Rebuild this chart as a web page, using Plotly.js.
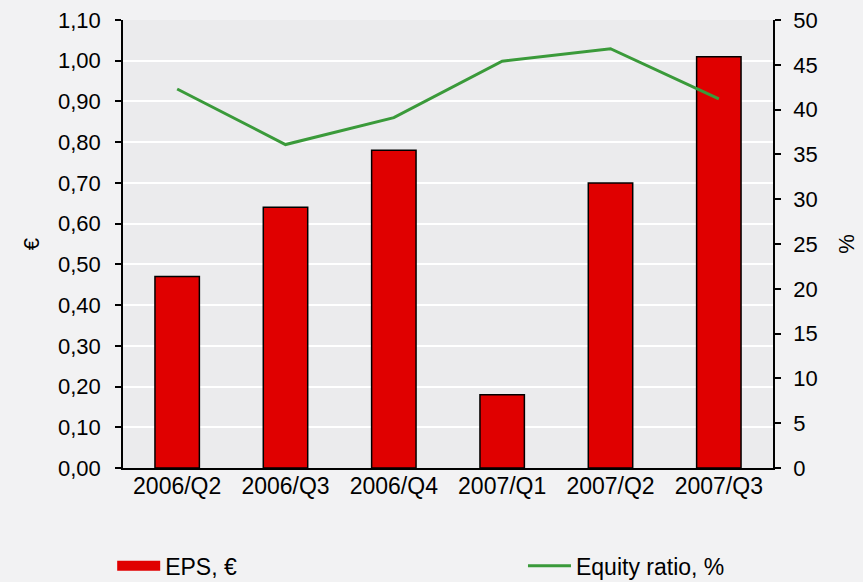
<!DOCTYPE html>
<html>
<head>
<meta charset="utf-8">
<script src="https://cdn.plot.ly/plotly-3.0.1.min.js"></script>
<style>
  html, body { margin: 0; padding: 0; background: #f2f2f3; }
  #plot { width: 863px; height: 582px; }
</style>
</head>
<body>
<div id="plot"></div>
<script>
// Data
const quarters = ['2006/Q2', '2006/Q3', '2006/Q4', '2007/Q1', '2007/Q2', '2007/Q3'];
const eps = [0.47, 0.64, 0.78, 0.18, 0.70, 1.01];        // €
const equityRatio = [42.3, 36.1, 39.1, 45.4, 46.8, 41.2]; // %

const font = 'Liberation Sans, Arial, sans-serif';
const red = '#e00000';
const green = '#3a9a3a';

const epsTrace = {
    x: quarters,
    y: eps,
    type: 'bar',
    name: 'EPS, €',
    marker: {color: red, line: {color: '#000000', width: 1.5}},
    showlegend: false
};

// legend entry for the bars, drawn as a wide swatch like the original
const epsLegend = {
    x: [null],
    y: [null],
    type: 'scatter',
    mode: 'lines',
    name: 'EPS, €',
    line: {color: red, width: 16},
    legend: 'legend',
    hoverinfo: 'skip'
};

const equityTrace = {
    x: quarters,
    y: equityRatio,
    type: 'scatter',
    mode: 'lines',
    name: 'Equity ratio, %',
    yaxis: 'y2',
    line: {color: green, width: 3},
    legend: 'legend2'
};

const layout = {
    width: 863,
    height: 582,
    margin: {l: 123, r: 90, t: 20, b: 114},
    paper_bgcolor: '#f2f2f3',
    plot_bgcolor: '#ebebed',
    separators: ', ',
    font: {family: font, size: 22, color: '#000000'},
    bargap: 0.59,
    xaxis: {
        type: 'category',
        showline: true,
        linecolor: '#000000',
        linewidth: 1.5,
        ticks: '',
        showgrid: false,
        tickfont: {size: 23},
        ticklabelstandoff: -3,
        automargin: false
    },
    yaxis: {
        range: [0, 1.1],
        dtick: 0.1,
        tickformat: '.2f',
        showline: true,
        linecolor: '#000000',
        linewidth: 1.5,
        ticks: 'outside',
        ticklen: 6,
        tickwidth: 1.5,
        tickcolor: '#000000',
        ticklabelstandoff: 10,
        gridcolor: '#ffffff',
        gridwidth: 1.5,
        zeroline: false,
        automargin: false,
        title: {text: '€', font: {size: 22}, standoff: 12}
    },
    yaxis2: {
        overlaying: 'y',
        side: 'right',
        range: [0, 50],
        dtick: 5,
        showline: true,
        linecolor: '#000000',
        linewidth: 1.5,
        ticks: 'outside',
        ticklen: 6,
        tickwidth: 1.5,
        tickcolor: '#000000',
        ticklabelstandoff: 8,
        showgrid: false,
        zeroline: false,
        automargin: false,
        title: {text: '%', font: {size: 22}, standoff: 22}
    },
    legend: {
        orientation: 'h',
        xref: 'container', yref: 'container',
        x: 0.13, xanchor: 'left',
        y: 0.028, yanchor: 'middle',
        itemwidth: 43,
        bgcolor: 'rgba(0,0,0,0)',
        font: {size: 23}
    },
    legend2: {
        orientation: 'h',
        xref: 'container', yref: 'container',
        x: 0.606, xanchor: 'left',
        y: 0.028, yanchor: 'middle',
        itemwidth: 43,
        bgcolor: 'rgba(0,0,0,0)',
        font: {size: 23}
    },
    showlegend: true
};

Plotly.newPlot('plot', [epsTrace, equityTrace, epsLegend], layout, {displayModeBar: false});
</script>
</body>
</html>
